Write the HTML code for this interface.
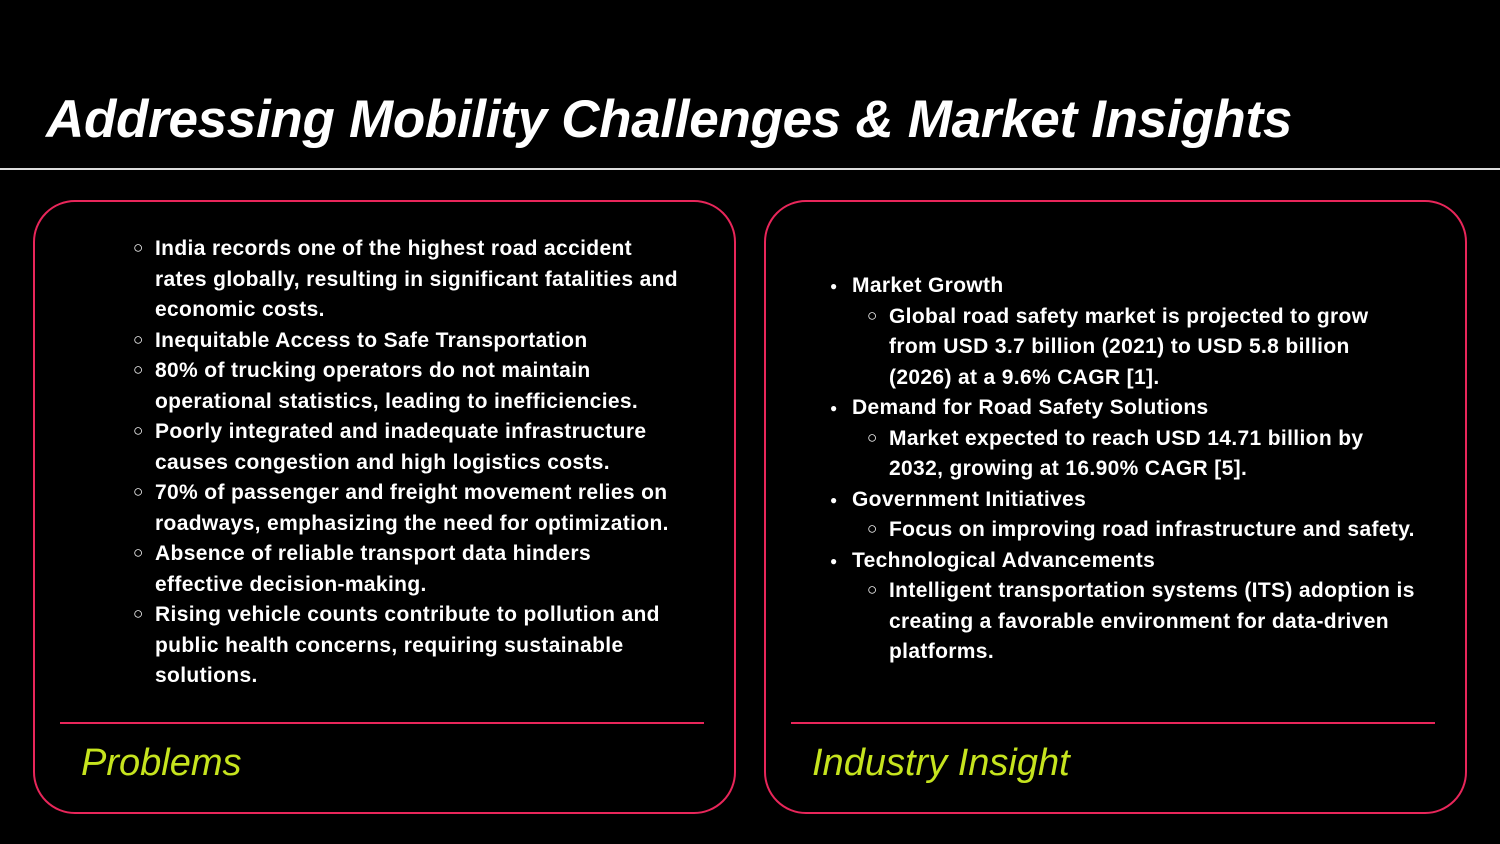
<!DOCTYPE html>
<html><head><meta charset="utf-8"><style>
html,body{margin:0;padding:0;background:#000;}
body{width:1500px;height:844px;position:relative;overflow:hidden;font-family:"Liberation Sans",sans-serif;color:#fff;}
.title{position:absolute;left:46px;top:89px;font-size:53px;font-weight:bold;font-style:italic;white-space:nowrap;letter-spacing:-0.3px;}
.hr{position:absolute;left:0;top:168px;width:1500px;height:2px;background:#ddd;}
.card{position:absolute;top:200px;width:703px;height:614px;border:2px solid #e8265a;border-radius:42px;box-sizing:border-box;}
.sep{position:absolute;top:722px;height:2px;background:#e8265a;}
.label{position:absolute;top:742px;font-size:38px;font-style:italic;color:#c6e41e;white-space:nowrap;}
.ln{position:absolute;font-size:21px;font-weight:bold;white-space:nowrap;line-height:30px;letter-spacing:0.35px;}
.b{position:absolute;font-size:17px;line-height:30px;}
</style></head><body>
<div class="title">Addressing Mobility Challenges &amp; Market Insights</div>
<div class="hr"></div>
<div class="card" style="left:33px"></div>
<div class="card" style="left:764px"></div>
<div class="sep" style="left:60px;width:644px"></div>
<div class="sep" style="left:791px;width:644px"></div>
<div class="label" style="left:81px">Problems</div>
<div class="label" style="left:812px">Industry Insight</div>
<div id="left"></div>
<div id="right"></div>
<script>
const leftLines=[
["o","India records one of the highest road accident"],
["","rates globally, resulting in significant fatalities and"],
["","economic costs."],
["o","Inequitable Access to Safe Transportation"],
["o","80% of trucking operators do not maintain"],
["","operational statistics, leading to inefficiencies."],
["o","Poorly integrated and inadequate infrastructure"],
["","causes congestion and high logistics costs."],
["o","70% of passenger and freight movement relies on"],
["","roadways, emphasizing the need for optimization."],
["o","Absence of reliable transport data hinders"],
["","effective decision-making."],
["o","Rising vehicle counts contribute to pollution and"],
["","public health concerns, requiring sustainable"],
["","solutions."]];
const rightLines=[
["d","Market Growth"],
["o","Global road safety market is projected to grow"],
["s","from USD 3.7 billion (2021) to USD 5.8 billion"],
["s","(2026) at a 9.6% CAGR [1]."],
["d","Demand for Road Safety Solutions"],
["o","Market expected to reach USD 14.71 billion by"],
["s","2032, growing at 16.90% CAGR [5]."],
["d","Government Initiatives"],
["o","Focus on improving road infrastructure and safety."],
["d","Technological Advancements"],
["o","Intelligent transportation systems (ITS) adoption is"],
["s","creating a favorable environment for data-driven"],
["s","platforms."]];
function put(parent,lines,top,cfg){
 lines.forEach((l,i)=>{
  const y=top+i*30.5-14;
  let tx=cfg.x0,bx=null,glyph='';
  if(l[0]==='o'){bx=cfg.x0-22;glyph='○';}
  if(l[0]==='d'){tx=cfg.d;bx=cfg.d-22;glyph='●';}
  if(bx!==null){
   const b=document.createElement('div');b.className='b';
   
   
   b.style.left=bx+'px';b.style.top=(y-1)+'px';
   if(glyph==='●'){b.style.fontSize='12px';b.style.top=y+'px';}
   b.textContent=glyph;parent.appendChild(b);}
  const t=document.createElement('div');t.className='ln';
  
  
  t.style.left=tx+'px';t.style.top=y+'px';t.textContent=l[1];parent.appendChild(t);
 });
}
put(document.getElementById('left'),leftLines,248,{x0:155,d:155});
put(document.getElementById('right'),rightLines,285,{x0:889,d:852});
</script>
</body></html>
